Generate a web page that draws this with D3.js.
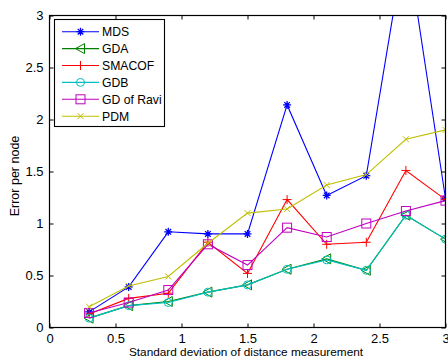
<!DOCTYPE html>
<html><head><meta charset="utf-8">
<script src="https://cdn.jsdelivr.net/npm/d3@7"></script>
<style>html,body{margin:0;padding:0;background:#fff;}svg{display:block;}text{font-family:"Liberation Sans",Arial,Helvetica,sans-serif;}</style>
</head><body>
<script>
const xValues = [0.3, 0.6, 0.9, 1.2, 1.5, 1.8, 2.1, 2.4, 2.7, 3.0];
const mds    = [0.15, 0.39, 0.92, 0.90, 0.90, 2.14, 1.27, 1.46, 3.75, 1.24];
const gda    = [0.09, 0.21, 0.25, 0.34, 0.41, 0.56, 0.66, 0.55, 1.08, 0.85];
const smacof = [0.13, 0.28, 0.33, 0.82, 0.52, 1.23, 0.80, 0.82, 1.51, 1.23];
const gdb    = [0.09, 0.21, 0.24, 0.34, 0.41, 0.56, 0.65, 0.55, 1.08, 0.85];
const gdRavi = [0.14, 0.24, 0.36, 0.80, 0.60, 0.96, 0.87, 1.00, 1.12, 1.22];
const pdm    = [0.20, 0.40, 0.49, 0.81, 1.10, 1.14, 1.37, 1.47, 1.81, 1.90];
const seriesNames = ["MDS", "GDA", "SMACOF", "GDB", "GD of Ravi", "PDM"];
const xTicks = [0, 0.5, 1, 1.5, 2, 2.5, 3];
const yTicks = [0, 0.5, 1, 1.5, 2, 2.5, 3];
const xLabel = "Standard deviation of distance measurement";
const yLabel = "Error per node";

const series = [
  {name: seriesNames[0], values: mds,    color: "#0000ff", marker: "star"},
  {name: seriesNames[1], values: gda,    color: "#008000", marker: "triLeft"},
  {name: seriesNames[2], values: smacof, color: "#ff0000", marker: "plus"},
  {name: seriesNames[3], values: gdb,    color: "#00bfbf", marker: "circle"},
  {name: seriesNames[4], values: gdRavi, color: "#bf00bf", marker: "square"},
  {name: seriesNames[5], values: pdm,    color: "#bfbf00", marker: "cross"}
];

const W = 448, H = 358;
const L = 49.5, R = 445.5, T = 15.5, B = 327.5;
const x = d3.scaleLinear().domain([0, 3]).range([L, R]);
const y = d3.scaleLinear().domain([0, 3]).range([B, T]);

const svg = d3.select("body").append("svg").attr("width", W).attr("height", H);
svg.append("rect").attr("width", W).attr("height", H).attr("fill", "#fff");

svg.append("defs").append("clipPath").attr("id", "clip")
  .append("rect").attr("x", L).attr("y", T).attr("width", R - L).attr("height", B - T);

function drawMarker(g, type, cx, cy, color) {
  const s = g.append("g").attr("transform", `translate(${cx},${cy})`)
    .attr("fill", "none").attr("stroke", color).attr("stroke-width", 1);
  if (type === "star") {
    const r = 4;
    s.append("path").attr("d", `M${-r},0H${r}M0,${-r}V${r}M${-r*0.7},${-r*0.7}L${r*0.7},${r*0.7}M${-r*0.7},${r*0.7}L${r*0.7},${-r*0.7}`).attr("stroke-width", 1.3);
  } else if (type === "triLeft") {
    const r = 5;
    s.append("path").attr("d", `M${-r},0L${r*0.8},${-r}L${r*0.8},${r}Z`);
  } else if (type === "plus") {
    const r = 4.5;
    s.append("path").attr("d", `M${-r},0H${r}M0,${-r}V${r}`);
  } else if (type === "circle") {
    s.append("circle").attr("r", 4);
  } else if (type === "square") {
    const r = 4.5;
    s.append("rect").attr("x", -r).attr("y", -r).attr("width", 2*r).attr("height", 2*r);
  } else if (type === "cross") {
    const r = 3;
    s.append("path").attr("d", `M${-r},${-r}L${r},${r}M${-r},${r}L${r},${-r}`);
  }
}

// ticks
const axisG = svg.append("g");
const xb = d3.axisBottom(x).tickValues(xTicks).tickSizeInner(-4).tickSizeOuter(0).tickPadding(6)
  .tickFormat(d3.format("~g"));
const yl = d3.axisLeft(y).tickValues(yTicks).tickSizeInner(-4).tickSizeOuter(0).tickPadding(6)
  .tickFormat(d3.format("~g"));
const xt = d3.axisTop(x).tickValues(xTicks).tickSizeInner(-4).tickSizeOuter(0).tickFormat("");
const yr = d3.axisRight(y).tickValues(yTicks).tickSizeInner(-4).tickSizeOuter(0).tickFormat("");
[ [xb, `translate(0,${B})`], [yl, `translate(${L},0)`], [xt, `translate(0,${T})`], [yr, `translate(${R},0)`] ]
  .forEach(([ax, tr]) => {
    const g = axisG.append("g").attr("transform", tr).call(ax);
    g.select(".domain").remove();
    g.selectAll("line").attr("stroke", "#000");
    g.selectAll("text").attr("font-size", 13).attr("fill", "#000")
      .attr("font-family", "'Liberation Sans',Arial,sans-serif");
  });

// data
const plot = svg.append("g").attr("clip-path", "url(#clip)");
const line = d3.line().x((d, i) => x(xValues[i])).y(d => y(d));
series.forEach(s => {
  plot.append("path").datum(s.values).attr("d", line)
    .attr("fill", "none").attr("stroke", s.color).attr("stroke-width", 1.1);
  s.values.forEach((v, i) => drawMarker(plot, s.marker, x(xValues[i]), y(v), s.color));
});

// frame
svg.append("rect").attr("x", L).attr("y", T).attr("width", R - L).attr("height", B - T)
  .attr("fill", "none").attr("stroke", "#000").attr("stroke-width", 1.2);

// labels
svg.append("text").attr("x", 246).attr("y", 356).attr("text-anchor", "middle")
  .attr("font-size", 11.8).attr("fill", "#000").text(xLabel);
svg.append("text").attr("transform", `translate(19,176) rotate(-90)`).attr("text-anchor", "middle")
  .attr("font-size", 12.5).attr("fill", "#000").text(yLabel);

// legend
const lg = svg.append("g");
const lx = 54.5, ly = 19.5, lw = 110, lh = 107;
lg.append("rect").attr("x", lx).attr("y", ly).attr("width", lw).attr("height", lh)
  .attr("fill", "#fff").attr("stroke", "#000").attr("stroke-width", 1.1);
series.forEach((s, i) => {
  const yy = 31.7 + i * 16.9;
  lg.append("line").attr("x1", 62).attr("x2", 99).attr("y1", yy).attr("y2", yy)
    .attr("stroke", s.color).attr("stroke-width", 1.1);
  drawMarker(lg, s.marker, 80.5, yy, s.color);
  lg.append("text").attr("x", 102).attr("y", yy + 4.5).attr("font-size", 12.2).attr("fill", "#000").text(s.name);
});
</script>
</body></html>
